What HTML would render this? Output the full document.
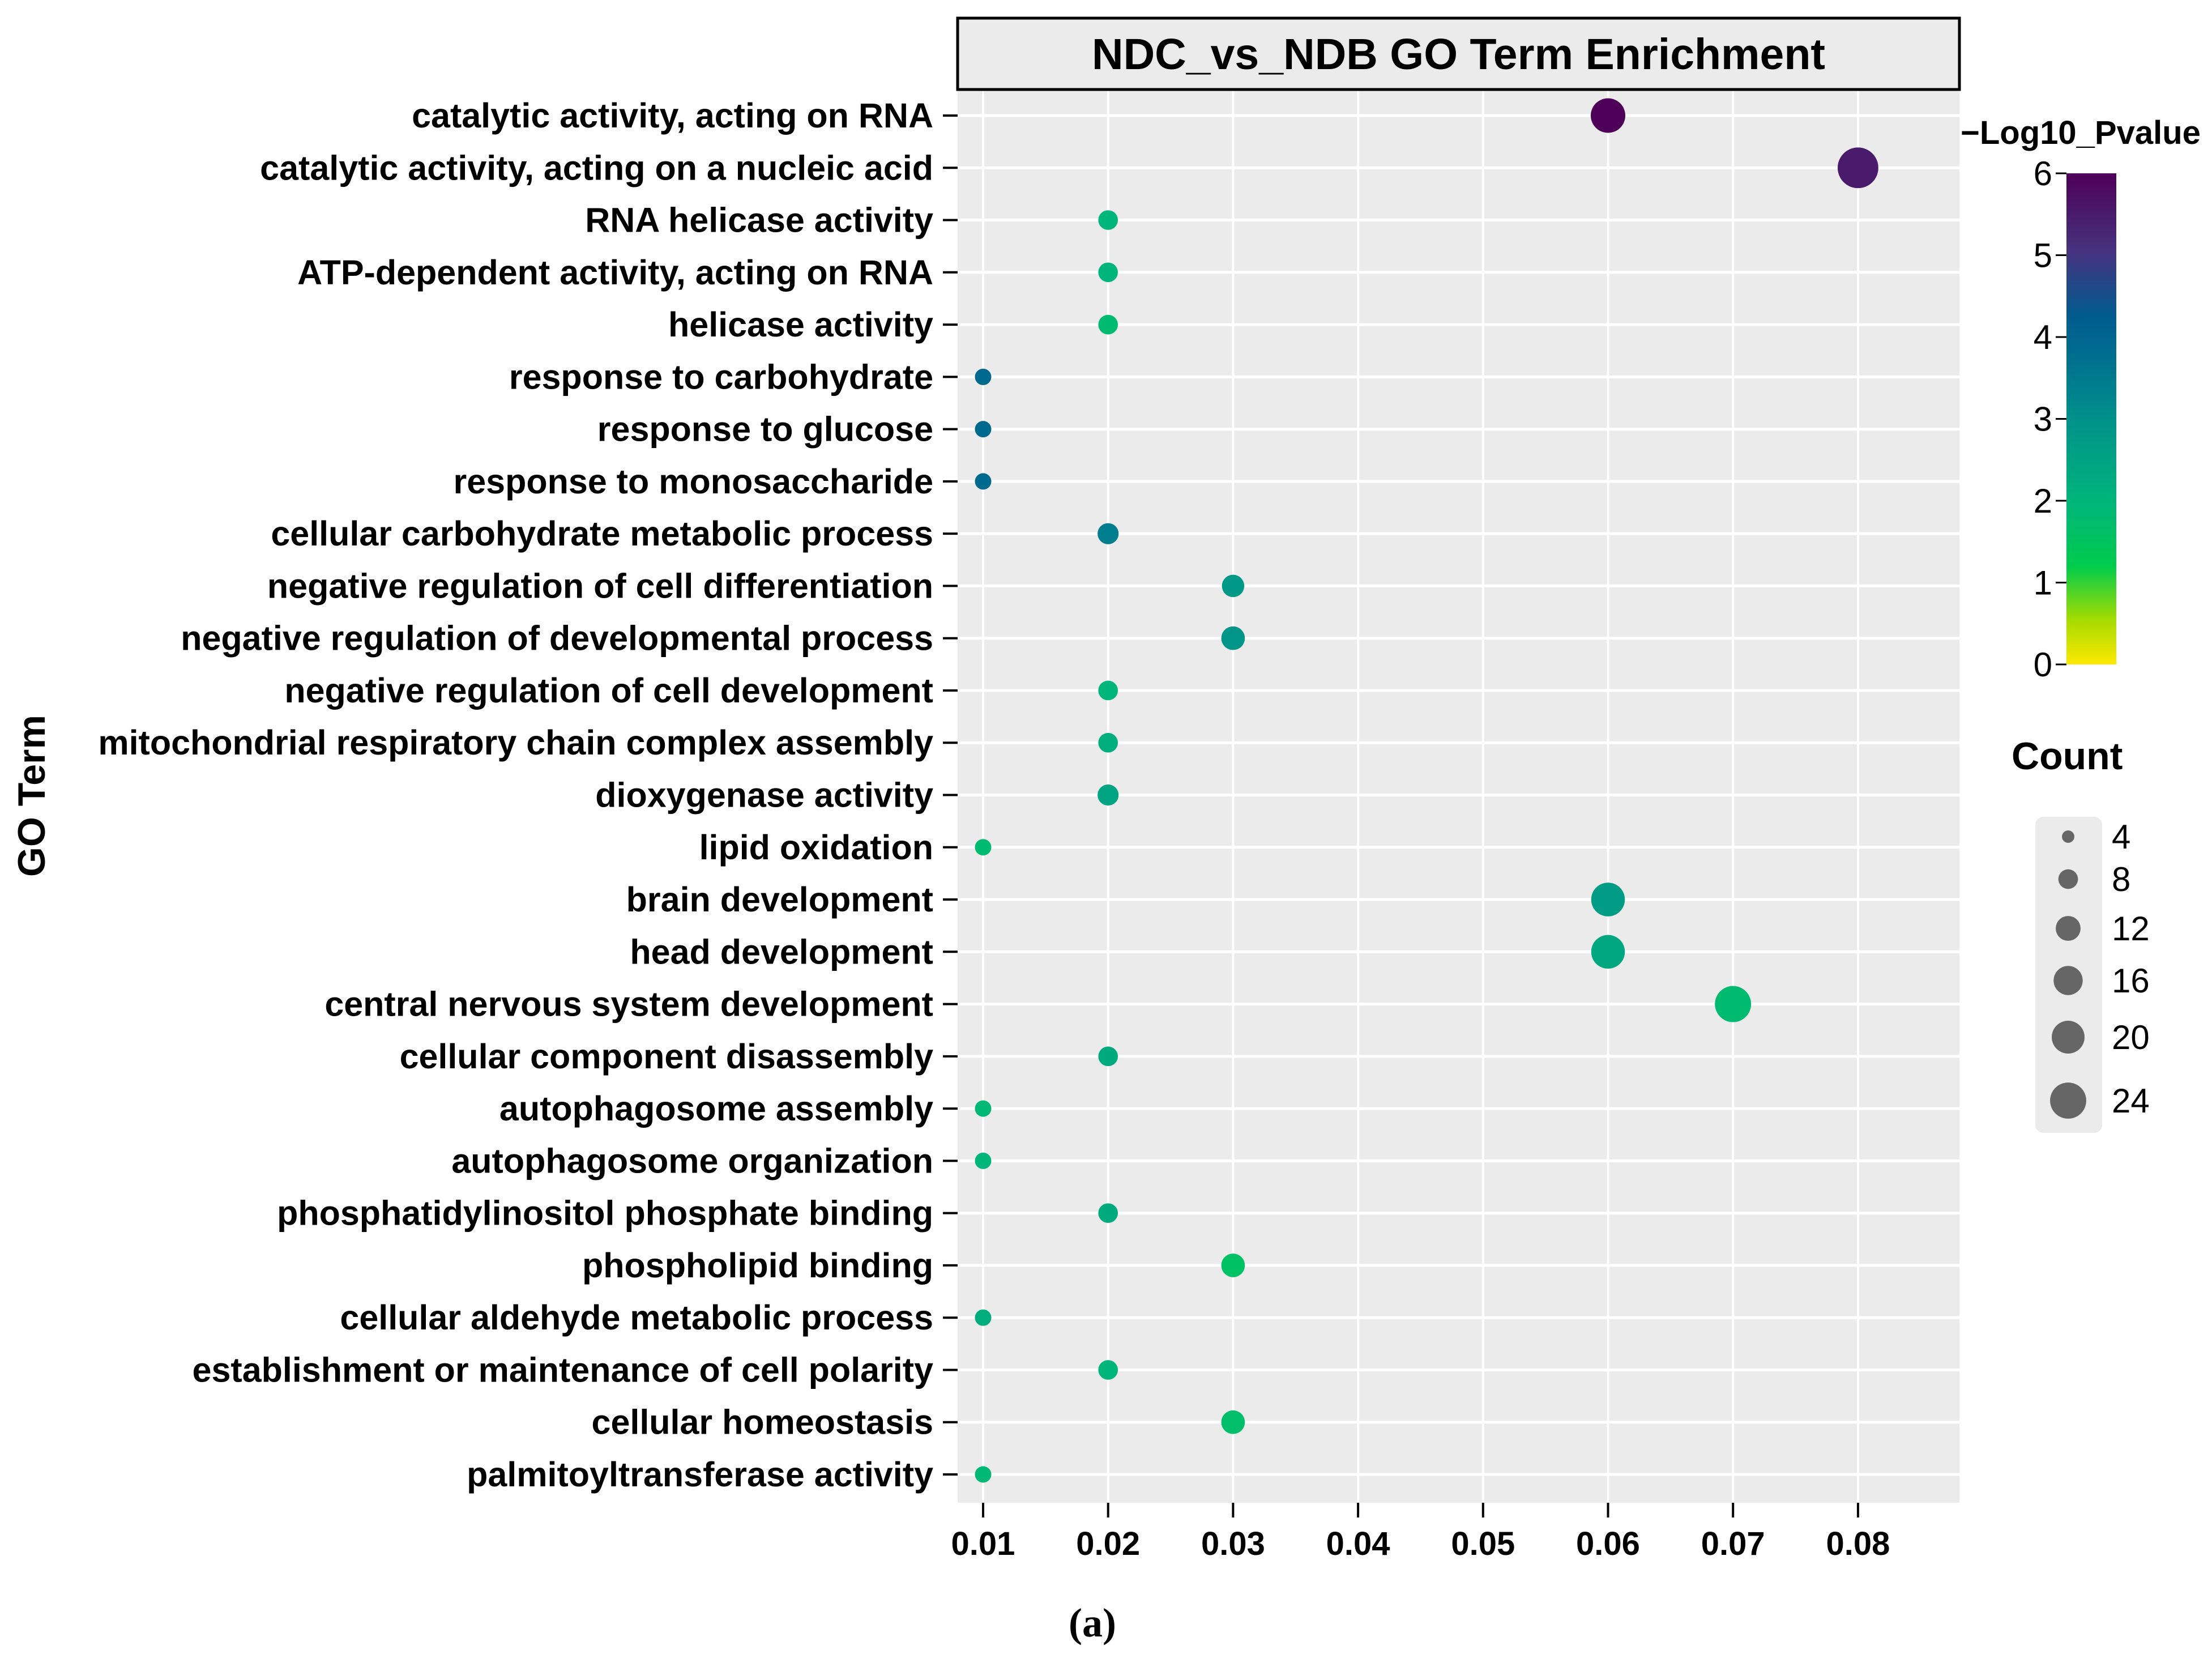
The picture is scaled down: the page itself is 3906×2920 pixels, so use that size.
<!DOCTYPE html>
<html><head><meta charset="utf-8"><style>
html,body{margin:0;padding:0;background:#fff}
svg{display:block;font-family:"Liberation Sans",Arial,sans-serif}
</style></head><body>
<svg id="chart" width="3906" height="2920" viewBox="0 0 3906 2920" xmlns="http://www.w3.org/2000/svg">
<defs>
<linearGradient id="cbar" x1="0" y1="1" x2="0" y2="0">
<stop offset="0" stop-color="#fde800"/>
<stop offset="0.09" stop-color="#a6dc00"/>
<stop offset="0.2" stop-color="#00cc4c"/>
<stop offset="0.33" stop-color="#00b57a"/>
<stop offset="0.5" stop-color="#00918a"/>
<stop offset="0.6" stop-color="#00758e"/>
<stop offset="0.71" stop-color="#005b8e"/>
<stop offset="0.84" stop-color="#46337f"/>
<stop offset="1" stop-color="#4e0058"/>
</linearGradient>
</defs>
<g id="panel"></g>
<g id="marks"></g>
<g id="axes"></g>
<g id="legend"></g>
</svg>
<script>
const terms = ["catalytic activity, acting on RNA","catalytic activity, acting on a nucleic acid","RNA helicase activity","ATP-dependent activity, acting on RNA","helicase activity","response to carbohydrate","response to glucose","response to monosaccharide","cellular carbohydrate metabolic process","negative regulation of cell differentiation","negative regulation of developmental process","negative regulation of cell development","mitochondrial respiratory chain complex assembly","dioxygenase activity","lipid oxidation","brain development","head development","central nervous system development","cellular component disassembly","autophagosome assembly","autophagosome organization","phosphatidylinositol phosphate binding","phospholipid binding","cellular aldehyde metabolic process","establishment or maintenance of cell polarity","cellular homeostasis","palmitoyltransferase activity"];
const ratios = [0.06,0.08,0.02,0.02,0.02,0.01,0.01,0.01,0.02,0.03,0.03,0.02,0.02,0.02,0.01,0.06,0.06,0.07,0.02,0.01,0.01,0.02,0.03,0.01,0.02,0.03,0.01];
const counts = [22,30,8,8,8,6,6,6,9,10,11,8,8,9,6,21,21,24,8,6,6,8,11,6,8,11,6];
const logp = [6.0,5.5,2.0,2.0,1.8,3.9,3.9,3.9,3.4,2.8,2.9,2.0,2.2,2.5,1.8,2.7,2.4,1.8,2.3,1.9,2.0,2.3,1.6,2.2,2.0,1.7,1.9];
const xTicks = [0.01,0.02,0.03,0.04,0.05,0.06,0.07,0.08];
const xTickLabels = ["0.01","0.02","0.03","0.04","0.05","0.06","0.07","0.08"];
const cTicks = [0,1,2,3,4,5,6];
const sizeBreaks = [4,8,12,16,20,24];

const NS="http://www.w3.org/2000/svg";
function mk(tag, attrs, parent, text){const e=document.createElementNS(NS,tag);for(const k in attrs)e.setAttribute(k,attrs[k]);if(text!==undefined)e.textContent=text;parent.appendChild(e);return e;}
const PL=1691, PR=3460, PT=160, PB=2653;
const xs = v => 1736 + (v-0.01)*22070;
const ys = i => 204 + i*(2603-204)/26;
const rs = c => Math.sqrt(Math.max(45*c-60, 40));
const CB_T=306, CB_B=1173;
const cy = v => CB_B - v/6*(CB_B-CB_T);
const stops=[[0,[253,232,0]],[0.54,[166,220,0]],[1.2,[0,204,76]],[2,[0,181,122]],[3,[0,145,138]],[3.6,[0,117,142]],[4.26,[0,91,142]],[5.04,[70,51,127]],[6,[78,0,88]]];
function col(v){for(let i=1;i<stops.length;i++){if(v<=stops[i][0]){const a=stops[i-1],b=stops[i];const t=(v-a[0])/(b[0]-a[0]);const c=a[1].map((x,j)=>Math.round(x+(b[1][j]-x)*t));return `rgb(${c[0]},${c[1]},${c[2]})`;}}return "rgb(78,0,88)";}

const panel=document.getElementById('panel'), marks=document.getElementById('marks'), axes=document.getElementById('axes'), legend=document.getElementById('legend');
let e;
e=mk('rect',{x:PL,y:PT,width:PR-PL,height:PB-PT,fill:'#ebebeb'},panel);


xTicks.forEach((t,i)=>{
  e=mk('line',{x1:xs(t),x2:xs(t),y1:PT,y2:PB,stroke:'#fff','stroke-width':4},panel);
  
  
  e=mk('line',{x1:xs(t),x2:xs(t),y1:PB,y2:PB+26,stroke:'#000','stroke-width':4},axes);
  
  
  e=mk('text',{x:xs(t),y:2745,'text-anchor':'middle','font-size':58,'font-weight':'bold'},axes,xTickLabels[i]);
  
  
});
terms.forEach((t,i)=>{
  e=mk('line',{x1:PL,x2:PR,y1:ys(i),y2:ys(i),stroke:'#fff','stroke-width':5},panel);
  
  
  e=mk('line',{x1:PL-26,x2:PL,y1:ys(i),y2:ys(i),stroke:'#000','stroke-width':4},axes);
  
  
  e=mk('text',{x:1648,y:ys(i)+21,'text-anchor':'end','font-size':61,'font-weight':'bold'},axes,t);
  
  
  e=mk('circle',{cx:xs(ratios[i]),cy:ys(i),r:rs(counts[i]),fill:col(logp[i])},marks);
  
  
});
e=mk('rect',{x:PL,y:32,width:PR-PL,height:PT-34,fill:'#ebebeb',stroke:'#000','stroke-width':5},axes);


e=mk('text',{x:(PL+PR)/2,y:122,'text-anchor':'middle','font-size':77,'font-weight':'bold'},axes,'NDC_vs_NDB GO Term Enrichment');


e=mk('text',{x:79,y:1405,'text-anchor':'middle','font-size':68,'font-weight':'bold',transform:'rotate(-90 79 1405)'},axes,'GO Term');


e=mk('text',{x:1929,y:2889,'text-anchor':'middle','font-size':72,'font-weight':'bold','font-family':'Liberation Serif, serif'},axes,'(a)');


e=mk('text',{x:3462,y:254,'font-size':58,'font-weight':'bold'},legend,'\u2212Log10_Pvalue');


e=mk('rect',{x:3649,y:CB_T,width:88,height:CB_B-CB_T,fill:'url(#cbar)'},legend);


cTicks.forEach(v=>{
  e=mk('line',{x1:3630,x2:3649,y1:cy(v),y2:cy(v),stroke:'#000','stroke-width':3},legend);
  
  
  e=mk('text',{x:3624,y:cy(v)+21,'text-anchor':'end','font-size':60},legend,String(v));
  
  
});
e=mk('text',{x:3552,y:1358,'font-size':68,'font-weight':'bold'},legend,'Count');


e=mk('rect',{x:3594,y:1442,width:118,height:558,rx:14,fill:'#ebebeb'},legend);


const keyY=[1477,1552,1639,1731,1831,1943];
sizeBreaks.forEach((c,i)=>{
  e=mk('circle',{cx:3652,cy:keyY[i],r:rs(c),fill:'#666'},legend);
  
  
  e=mk('text',{x:3729,y:keyY[i]+21,'font-size':60},legend,String(c));
  
  
});
</script>
</body></html>
